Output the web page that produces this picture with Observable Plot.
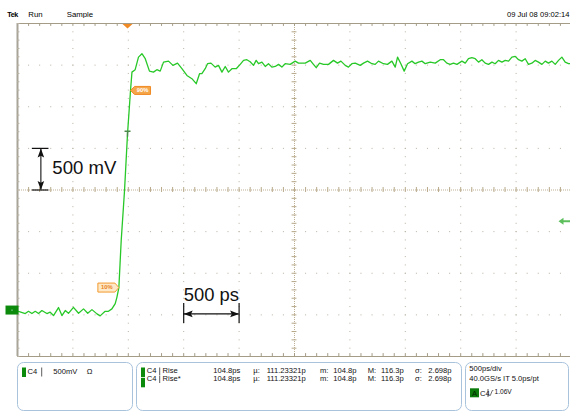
<!DOCTYPE html>
<html><head><meta charset="utf-8">
<script src="https://cdn.jsdelivr.net/npm/d3@7"></script>
<script src="https://cdn.jsdelivr.net/npm/@observablehq/plot@0.6"></script>
<style>
html,body{margin:0;padding:0;background:#fff;overflow:hidden;width:570px;height:412px;}
svg text{font-family:"Liberation Sans",Arial,sans-serif;}
</style></head>
<body>
<svg id="hdr" width="570" height="18" style="display:block">
  <text x="7.3" y="17" font-size="7.2" font-weight="bold" letter-spacing="-0.5">Tek</text>
  <text x="28.3" y="17" font-size="7.8">Run</text>
  <text x="66.7" y="17" font-size="7.8">Sample</text>
  <text x="569.5" y="17" font-size="7.6" text-anchor="end">09 Jul 08 09:02:14</text>
</svg>
<div id="chart"></div>
<svg id="ftr" width="570" height="50" style="display:block">
  <g fill="none" stroke="#a9c3dc" stroke-width="1">
    <rect x="17.5" y="0.5" width="115" height="48" rx="6"/>
    <rect x="136.5" y="0.5" width="325" height="48" rx="6"/>
    <rect x="465.5" y="0.5" width="103" height="48" rx="6"/>
  </g>
  <g font-size="7.6" fill="#111">
    <rect x="22" y="5.5" width="4" height="9.5" fill="#0b8a0b"/>
    <text x="27.5" y="11.5">C4</text>
    <line x1="41.7" y1="5.5" x2="41.7" y2="14.5" stroke="#333" stroke-width="0.8"/>
    <text x="53.3" y="11.5">500mV</text>
    <text x="86.7" y="11.5">Ω</text>

    <rect x="141" y="5.5" width="4" height="9.5" fill="#0b8a0b"/>
    <rect x="141" y="15.8" width="4" height="9.5" fill="#0b8a0b"/>
    <text x="146.7" y="11.3">C4</text>
    <text x="146.7" y="19.2">C4</text>
    <line x1="159.7" y1="5.5" x2="159.7" y2="13" stroke="#333" stroke-width="0.8"/>
    <line x1="159.7" y1="13.5" x2="159.7" y2="21" stroke="#333" stroke-width="0.8"/>
    <text x="162.5" y="11.3">Rise</text>
    <text x="162.5" y="19.2">Rise*</text>
    <text x="213.3" y="11.3">104.8ps</text>
    <text x="213.3" y="19.2">104.8ps</text>
    <text x="253.3" y="11.3">µ:</text>
    <text x="253.3" y="19.2">µ:</text>
    <text x="266.7" y="11.3">111.23321p</text>
    <text x="266.7" y="19.2">111.23321p</text>
    <text x="320" y="11.3">m:</text>
    <text x="320" y="19.2">m:</text>
    <text x="333.3" y="11.3">104.8p</text>
    <text x="333.3" y="19.2">104.8p</text>
    <text x="367.7" y="11.3">M:</text>
    <text x="367.7" y="19.2">M:</text>
    <text x="381" y="11.3">116.3p</text>
    <text x="381" y="19.2">116.3p</text>
    <text x="415" y="11.3">σ:</text>
    <text x="415" y="19.2">σ:</text>
    <text x="428.3" y="11.3">2.698p</text>
    <text x="428.3" y="19.2">2.698p</text>

    <text x="469.3" y="9.2">500ps/div</text>
    <text x="469.3" y="19">40.0GS/s IT 5.0ps/pt</text>
    <rect x="470" y="26.3" width="9" height="9" fill="#0a7a0a"/>
    <text x="474.5" y="34" text-anchor="middle" font-size="7.5" fill="#002000">A</text>
    <text x="480" y="34.3">C4</text>
    <line x1="488" y1="27" x2="488" y2="35" stroke="#333" stroke-width="0.8"/>
    <path d="M489.3,33.5 L490.3,33.5 L492.3,28.5 L493.3,28.5" fill="none" stroke="#333" stroke-width="0.7"/>
    <text x="494.5" y="32" font-size="6.6">1.06V</text>
  </g>
</svg>
<script>
// Waveform: time in ps (0 = screen centre), voltage in mV relative to screen centre (500 mV/div, 500 ps/div)
const timePs = [
 -2491,-2430,-2401,-2370,-2340,-2310,-2280,-2235,-2205,-2175,-2130,-2099,-2069,-2040,-1995,-1949,-1904,-1866,-1828,-1783,-1754,-1709,-1679,-1648,
 -1618,-1603,-1585,-1573,-1564,-1534,-1507,-1480,-1467,-1438,
 -1408,-1377,-1347,-1309,-1273,-1242,-1212,-1182,-1137,-1097,-1056,-1016,-971,-926,-887,-857,-836,-806,-785,-754,-716,-686,-655,-625,-596,-565,-526,
 -490,-460,-430,-400,-370,-346,-325,-294,-264,-235,-204,-174,-144,-114,-84,-39,6,36,97,142,171,196,226,262,307,352,388,419,458,487,518,548,593,623,
 659,699,728,758,803,839,879,909,930,960,990,1020,1060,1089,1119,1150,1180,1225,1270,1315,1345,1375,1405,1435,1466,1511,1541,1570,1601,1631,1661,
 1691,1721,1751,1782,1811,1841,1872,1902,1932,1962,1992,2022,2052,2082,2112,2142,2172,2202,2233,2263,2292,2323,2353,2383,2413,2443,2473,2497
];
const voltMv = [
 -1457,-1484,-1457,-1484,-1457,-1484,-1448,-1484,-1468,-1508,-1412,-1508,-1448,-1481,-1409,-1481,-1428,-1481,-1437,-1488,-1512,-1457,-1457,-1428,
 -1364,-1289,-1172,-847,-607,-6,676,1196,1416,1445,
 1596,1637,1577,1428,1416,1445,1428,1536,1548,1497,1524,1457,1376,1337,1277,1397,1397,1457,1517,1524,1476,1497,1416,1484,1416,1457,1457,
 1509,1557,1565,1541,1497,1557,1517,1536,1484,1517,1476,1484,1509,1476,1517,1509,1548,1524,1524,1557,1509,1469,1524,1509,1509,1557,1524,1548,1497,1476,1517,1524,1497,1524,
 1548,1517,1509,1548,1517,1509,1548,1476,1596,1517,1428,1517,1548,1517,1536,1548,1517,1536,1524,1565,1565,1524,1509,1524,1509,1548,1524,1577,1589,1577,1536,
 1565,1524,1509,1536,1517,1557,1536,1557,1548,1596,1605,1565,1548,1577,1509,1524,1557,1536,1509,1548,1524,1548,1509,1557,1596,1536,1517,1520
];
// Graticule (10 x 8 divisions)
const majorT = [-2500,-2000,-1500,-1000,-500,0,500,1000,1500,2000,2500];
const majorV = [-2000,-1500,-1000,-500,0,500,1000,1500,2000];
const minorT = d3.range(-2500, 2501, 100);
const minorV = d3.range(-2000, 2001, 100);
// Markers
const triggerT = [-1507];
const triggerV = [676];
const levelLabels = ["10%", "90%"];
const levelT = [-1585, -1480];
const levelV = [-1172, 1196];
const groundV = [-1442];
const trigLevelV = [-375];
// Scale-bar annotations
const voltBar = [0, 500];      // mV
const voltBarT = [-2289];
const voltCap = [-2366, -2216];
const timeBar = [-1000, -500]; // ps
const timeBarV = [-1488];
const timeCap = [-1364, -1605];
const labels = ["500 mV", "500 ps"];

const wave = timePs.map((t, i) => ({t, v: voltMv[i]}));
const sym = (f) => ({draw(ctx) { f(ctx); }});
const headUp = sym(c => {c.moveTo(0,0); c.lineTo(-3.3,9); c.lineTo(0,7.3); c.lineTo(3.3,9); c.closePath();});
const headDown = sym(c => {c.moveTo(0,0); c.lineTo(-3.3,-9); c.lineTo(0,-7.3); c.lineTo(3.3,-9); c.closePath();});
const headLeft = sym(c => {c.moveTo(0,0); c.lineTo(9,-3.3); c.lineTo(7.3,0); c.lineTo(9,3.3); c.closePath();});
const headRight = sym(c => {c.moveTo(0,0); c.lineTo(-9,-3.3); c.lineTo(-7.3,0); c.lineTo(-9,3.3); c.closePath();});
const flagRight = sym(c => {c.moveTo(0,0); c.lineTo(-4,-4.5); c.lineTo(-21,-4.5); c.lineTo(-21,4.5); c.lineTo(-4,4.5); c.closePath();});
const flagLeft = sym(c => {c.moveTo(0,0); c.lineTo(4,-4); c.lineTo(20,-4); c.lineTo(20,4); c.lineTo(4,4); c.closePath();});
const trigTri = sym(c => {c.moveTo(-5,0.5); c.lineTo(5,0.5); c.lineTo(0,5); c.closePath();});
const tee = sym(c => {c.moveTo(-3,-2.5); c.lineTo(3,-2.5); c.moveTo(0,-2.5); c.lineTo(0,3);});
const gndBox = sym(c => {c.moveTo(-6.5,-4.5); c.lineTo(6.5,-4.5); c.lineTo(6.5,4.5); c.lineTo(-6.5,4.5); c.closePath();});
const leftArrow = sym(c => {c.moveTo(0,0); c.lineTo(5,-3.5); c.lineTo(5,-1); c.lineTo(13,-1); c.lineTo(13,1); c.lineTo(5,1); c.lineTo(5,3.5); c.closePath();});

const gridC = "#b9b2a2", borderC = "#a49c86";
const chart = Plot.plot({
  width: 570, height: 344,
  marginLeft: 17, marginRight: -1, marginTop: 5, marginBottom: 6,
  x: {domain: [-2500, 2500], axis: null},
  y: {domain: [-2000, 2000], axis: null},
  style: {background: "white", overflow: "visible", fontFamily: "Liberation Sans, Arial, sans-serif"},
  marks: [
    Plot.ruleX(majorT.filter(t => t !== 0 && t !== -2500), {stroke: gridC, strokeDasharray: "1 7.325"}),
    Plot.ruleY(majorV.filter(v => v !== 0 && Math.abs(v) !== 2000), {stroke: gridC, strokeDasharray: "1 10.08"}),
    Plot.ruleY([0], {stroke: "#beb195", strokeDasharray: "1 1"}),
    Plot.ruleX([0], {stroke: "#beb195", strokeDasharray: "1 1"}),
    Plot.ruleX(minorT, {y1: -30, y2: 30, stroke: "#b8a98a"}),
    Plot.ruleY(minorV, {x1: -22, x2: 22, stroke: "#b8a98a"}),
    Plot.ruleY([2000, -2000], {stroke: borderC}),
    Plot.ruleX(minorT, {y1: 2000, y2: 1965, stroke: borderC}),
    Plot.ruleX(minorT, {y1: -2000, y2: -1965, stroke: borderC}),
    Plot.ruleX([-2500], {stroke: "#a8a498", strokeWidth: 2}),
    Plot.ruleY(minorV, {x1: -2500, x2: -2478, stroke: gridC}),
    // scale bars
    Plot.ruleX(voltBarT, {y1: voltBar[0], y2: voltBar[1], stroke: "#111", strokeWidth: 1.1}),
    Plot.ruleY(voltBar, {x1: voltCap[0], x2: voltCap[1], stroke: "#111", strokeWidth: 1.2}),
    Plot.dot(voltBarT, {x: d => d, y: voltBar[1], symbol: headUp, fill: "#111", stroke: "none"}),
    Plot.dot(voltBarT, {x: d => d, y: voltBar[0], symbol: headDown, fill: "#111", stroke: "none"}),
    Plot.ruleY(timeBarV, {x1: timeBar[0], x2: timeBar[1], stroke: "#111", strokeWidth: 1.1}),
    Plot.ruleX(timeBar, {y1: timeCap[0], y2: timeCap[1], stroke: "#111", strokeWidth: 1.2}),
    Plot.dot(timeBarV, {x: timeBar[0], y: d => d, symbol: headLeft, fill: "#111", stroke: "none"}),
    Plot.dot(timeBarV, {x: timeBar[1], y: d => d, symbol: headRight, fill: "#111", stroke: "none"}),
    Plot.text([labels[0]], {x: -2186, y: 198, text: d => d, textAnchor: "start", lineAnchor: "bottom", fontSize: 18.6, fill: "#111"}),
    Plot.text([labels[1]], {x: -1000, y: -1328, text: d => d, textAnchor: "start", lineAnchor: "bottom", fontSize: 18.4, fill: "#111"}),
    // waveform
    Plot.line(wave, {x: "t", y: "v", stroke: "#28c828", strokeWidth: 1.3}),
    // markers
    Plot.dot(triggerT, {x: d => d, y: 2000, symbol: trigTri, fill: "#f08a24", stroke: "none"}),
    Plot.dot(triggerT, {x: d => d, y: triggerV[0], symbol: tee, fill: "none", stroke: "#4d8a4d", strokeWidth: 1.4}),
    Plot.dot([0], {x: levelT[0], y: levelV[0], symbol: flagRight, fill: "#fde9c8", stroke: "#f39a2e", strokeWidth: 1}),
    Plot.text([levelLabels[0]], {x: levelT[0], y: levelV[0], dx: -12, text: d => d, fontSize: 5.8, fontWeight: "bold", fill: "#e8801a"}),
    Plot.dot([0], {x: levelT[1], y: levelV[1], symbol: flagLeft, fill: "#f5a54a", stroke: "#f08a24", strokeWidth: 1}),
    Plot.text([levelLabels[1]], {x: levelT[1], y: levelV[1], dx: 12, text: d => d, fontSize: 5.8, fontWeight: "bold", fill: "#fff"}),
    Plot.dot(groundV, {x: -2500, y: d => d, dx: -5.5, symbol: gndBox, fill: "#0b8a0b", stroke: "none"}),
    Plot.dot(groundV, {x: -2500, y: d => d, dx: -5.5, r: 0.6, fill: "#cfe", stroke: "none"}),
    Plot.dot(trigLevelV, {x: 2500, y: d => d, dx: -13, symbol: leftArrow, fill: "#5cbf5c", stroke: "none"})
  ]
});
document.getElementById("chart").appendChild(chart);
</script>
</body></html>
